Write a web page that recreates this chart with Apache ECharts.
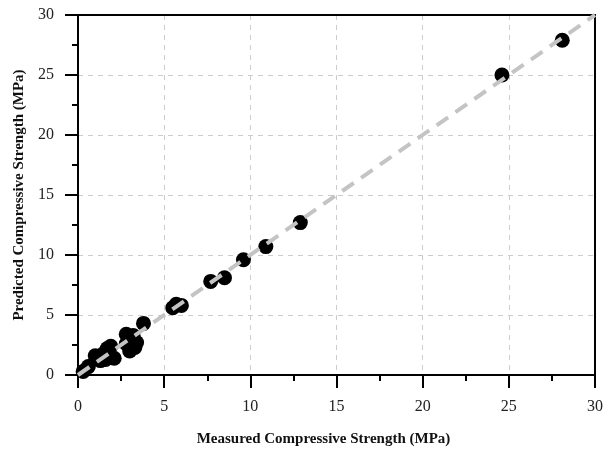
<!DOCTYPE html>
<html>
<head>
<meta charset="utf-8">
<script src="https://cdn.jsdelivr.net/npm/echarts@6/dist/echarts.min.js"></script>
<style>
  html, body { margin: 0; padding: 0; background: #fff; }
  #charts { width: 611px; height: 452px; }
</style>
</head>
<body>
<div id="charts"></div>
<script>
// measured vs predicted
var measured  = [0.3, 0.6, 1.0, 1.3, 1.5, 1.7, 1.9, 2.1, 1.6, 2.8, 3.2, 3.4, 3.0, 2.8, 3.3, 3.8, 5.5, 5.7, 6.0, 7.7, 8.5, 9.6, 10.9, 12.9, 24.6, 28.1];
var predicted = [0.3, 0.7, 1.6, 1.2, 1.8, 2.2, 2.4, 1.4, 1.3, 3.4, 3.3, 2.7, 2.0, 2.6, 2.3, 4.3, 5.6, 5.9, 5.8, 7.8, 8.1, 9.6, 10.7, 12.7, 25.0, 27.9];
var lineEnds = [0, 30];

var points = measured.map(function (m, i) { return [m, predicted[i]]; });
var chart = echarts.init(document.getElementById("charts"));

var serif = '"Liberation Serif", "Times New Roman", serif';
var axisCommon = {
    type: 'value',
    min: 0,
    max: 30,
    interval: 5,
    axisLine: { show: true, lineStyle: { color: '#000', width: 2 } },
    axisTick: { show: true, length: 13, lineStyle: { color: '#000', width: 2 } },
    minorTick: { show: true, splitNumber: 2, length: 6, lineStyle: { color: '#000', width: 2 } },
    splitLine: { show: true, lineStyle: { color: '#cccccc', type: [5, 5], width: 1 } },
    axisLabel: { color: '#222', fontFamily: serif, fontSize: 16, margin: 24 },
    nameLocation: 'middle',
    nameTextStyle: { color: '#111', fontFamily: serif, fontSize: 15, fontWeight: 'bold' }
};
// frame lines on top and right, no ticks
var frame = {
    type: 'value', min: 0, max: 30, interval: 5,
    axisLine: { show: true, onZero: false, lineStyle: { color: '#000', width: 2 } },
    axisTick: { show: false }, axisLabel: { show: false }, splitLine: { show: false }
};

var option = {
    animation: false,
    grid: { left: 78, right: 16, top: 15, bottom: 76 },
    xAxis: [
        Object.assign({}, axisCommon, {
            name: 'Measured Compressive Strength (MPa)', nameGap: 57,
            nameTextStyle: Object.assign({}, axisCommon.nameTextStyle, { padding: [0, 26, 0, 0] })
        }),
        Object.assign({}, frame, { position: 'top' })
    ],
    yAxis: [
        Object.assign({}, axisCommon, { name: 'Predicted Compressive Strength (MPa)', nameGap: 50 }),
        Object.assign({}, frame, { position: 'right' })
    ],
    series: [
        {
            type: 'scatter',
            data: points,
            symbolSize: 15,
            itemStyle: { color: '#000', opacity: 1 },
            z: 2
        },
        {
            type: 'line',
            data: [[lineEnds[0], lineEnds[0]], [lineEnds[1], lineEnds[1]]],
            showSymbol: false,
            symbol: 'none',
            lineStyle: { color: '#c4c4c4', width: 4, type: [14, 9] },
            z: 3
        }
    ]
};
chart.setOption(option);
</script>
</body>
</html>
